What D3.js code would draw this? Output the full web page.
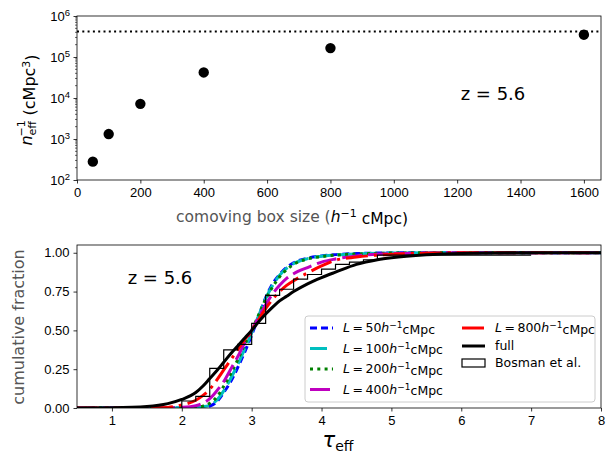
<!DOCTYPE html>
<html>
<head>
<meta charset="utf-8">
<script src="https://cdn.jsdelivr.net/npm/d3@7"></script>
<style>
  body { margin: 0; background: #fff; }
  svg { font-family: "DejaVu Sans", sans-serif; }
  .tick text { font-size: 13px; fill: #000; }
</style>
</head>
<body>
<div class="chart"></div>
<script>
// ---- top panel data
var boxSize = [50, 100, 200, 400, 800, 1600];
var nEffInv = [280, 1320, 7200, 42000, 165000, 350000];
var fullVolume = 420000;
var boxTicks = [0, 200, 400, 600, 800, 1000, 1200, 1400, 1600];

// ---- bottom panel data (cumulative distributions of tau_eff)
var tauGrid = [0.5, 1.0, 1.5, 1.8, 2.0, 2.2, 2.3, 2.4, 2.5, 2.6, 2.7, 2.8, 2.9, 3.0, 3.1, 3.2, 3.3, 3.4, 3.5, 3.6, 3.8, 4.0, 4.2, 4.5, 4.8, 5.0, 5.5, 6.0, 7.0, 8.0];
var cdfL50  = [0, 0, 0, 0, 0, 0.001, 0.004, 0.012, 0.04, 0.10, 0.17, 0.26, 0.36, 0.47, 0.59, 0.71, 0.80, 0.86, 0.905, 0.935, 0.965, 0.98, 0.988, 0.995, 0.998, 0.999, 1, 1, 1, 1];
var cdfL100 = [0, 0, 0, 0, 0.001, 0.004, 0.008, 0.018, 0.05, 0.11, 0.19, 0.28, 0.38, 0.485, 0.595, 0.705, 0.79, 0.855, 0.90, 0.93, 0.962, 0.978, 0.986, 0.993, 0.997, 0.998, 1, 1, 1, 1];
var cdfL200 = [0, 0, 0, 0, 0.002, 0.006, 0.012, 0.03, 0.07, 0.14, 0.22, 0.31, 0.41, 0.5, 0.6, 0.7, 0.78, 0.845, 0.89, 0.925, 0.96, 0.975, 0.985, 0.992, 0.996, 0.998, 1, 1, 1, 1];
var cdfL400 = [0, 0, 0, 0.001, 0.004, 0.015, 0.03, 0.06, 0.11, 0.17, 0.25, 0.33, 0.42, 0.5, 0.585, 0.665, 0.735, 0.79, 0.835, 0.865, 0.905, 0.94, 0.96, 0.98, 0.99, 0.994, 0.998, 1, 1, 1];
var cdfL800 = [0, 0, 0.001, 0.004, 0.02, 0.05, 0.08, 0.12, 0.18, 0.245, 0.31, 0.375, 0.44, 0.5, 0.57, 0.64, 0.70, 0.75, 0.79, 0.82, 0.87, 0.915, 0.952, 0.972, 0.985, 0.99, 0.997, 1, 1, 1];
var cdfFull = [0, 0.002, 0.01, 0.028, 0.055, 0.10, 0.14, 0.19, 0.24, 0.295, 0.35, 0.40, 0.45, 0.50, 0.555, 0.605, 0.65, 0.69, 0.72, 0.75, 0.80, 0.84, 0.875, 0.925, 0.955, 0.968, 0.987, 0.995, 1, 1];
var bosmanTau  = [2.0, 2.2, 2.4, 2.6, 2.8, 3.0, 3.2, 3.4, 3.6, 3.8, 4.0, 4.2, 4.4, 4.6, 4.8, 7.0];
var bosmanFrac = [0.045, 0.075, 0.255, 0.375, 0.41, 0.545, 0.725, 0.765, 0.83, 0.86, 0.895, 0.925, 0.94, 0.955, 0.985, 0.985];
var tauTicks = [1, 2, 3, 4, 5, 6, 7, 8];
var fracTicks = [0, 0.25, 0.5, 0.75, 1.0];

var series = [
  { name: "50",  values: cdfL50,  color: "#0000ff", dash: "7,4" },
  { name: "100", values: cdfL100, color: "#00bfbf", dash: "17,6" },
  { name: "200", values: cdfL200, color: "#008000", dash: "3,4.3" },
  { name: "400", values: cdfL400, color: "#bf00bf", dash: "20,6" },
  { name: "800", values: cdfL800, color: "#ff0000", dash: "22,6,3,6" }
];

var width = 606, height = 456;
var svg = d3.select(".chart").append("svg")
  .attr("width", width).attr("height", height);

function styleAxis(g) {
  g.select(".domain").remove();
  g.selectAll(".tick line").attr("stroke", "#000").attr("stroke-width", 0.8);
}

// ================= top panel
var top1 = { left: 77, right: 601, top: 16, bottom: 180 };
var x1 = d3.scaleLinear().domain([0, 1654]).range([top1.left, top1.right]);
var y1 = d3.scaleLog().domain([1e2, 1e6]).range([top1.bottom, top1.top]);

var gTop = svg.append("g");

gTop.append("line")
  .attr("x1", x1(0)).attr("x2", x1(1654))
  .attr("y1", y1(fullVolume)).attr("y2", y1(fullVolume))
  .attr("stroke", "#000").attr("stroke-width", 2)
  .attr("stroke-dasharray", "2,3.3");

gTop.append("g").selectAll("circle")
  .data(boxSize)
  .join("circle")
  .attr("cx", d => x1(d))
  .attr("cy", (d, i) => y1(nEffInv[i]))
  .attr("r", 5.2)
  .attr("fill", "#000");

gTop.append("g")
  .attr("transform", `translate(0,${top1.bottom})`)
  .call(d3.axisBottom(x1).tickValues(boxTicks).tickSize(3.5).tickPadding(4).tickFormat(d3.format("d")))
  .call(styleAxis);

var yAxTop = gTop.append("g")
  .attr("transform", `translate(${top1.left},0)`)
  .call(d3.axisLeft(y1).tickValues([1e2, 1e3, 1e4, 1e5, 1e6]).tickSize(3.5).tickPadding(4).tickFormat(""))
  .call(styleAxis);
yAxTop.selectAll(".tick").each(function(d) {
  var t = d3.select(this).append("text")
    .attr("x", -7).attr("dy", "0.35em")
    .attr("text-anchor", "end").style("font-size", "13px");
  t.append("tspan").text("10");
  t.append("tspan").attr("dy", "-0.5em").style("font-size", "9.5px").text(Math.round(Math.log10(d)));
});
// minor log ticks
var minor = [];
[100, 1000, 10000, 100000].forEach(function(b) {
  for (var k = 2; k < 10; k++) minor.push(b * k);
});
gTop.append("g").selectAll("line")
  .data(minor)
  .join("line")
  .attr("x1", top1.left - 2).attr("x2", top1.left)
  .attr("y1", d => y1(d)).attr("y2", d => y1(d))
  .attr("stroke", "#000").attr("stroke-width", 0.6);

gTop.append("rect")
  .attr("x", top1.left).attr("y", top1.top)
  .attr("width", top1.right - top1.left).attr("height", top1.bottom - top1.top)
  .attr("fill", "none").attr("stroke", "#000").attr("stroke-width", 0.8);

gTop.append("text")
  .attr("x", 493).attr("y", 100)
  .attr("text-anchor", "middle").style("font-size", "18px")
  .text("z = 5.6");

// axis labels
var xl1 = gTop.append("text")
  .attr("x", 292).attr("y", 222)
  .attr("text-anchor", "middle")
  .style("font-size", "15.5px");
xl1.append("tspan").attr("fill", "#555").text("comoving box size (");
xl1.append("tspan").attr("font-style", "italic").text("h");
xl1.append("tspan").attr("dy", "-0.45em").style("font-size", "11px").text("−1");
xl1.append("tspan").attr("dy", "0.45em").text(" cMpc)");

var yl1 = gTop.append("text")
  .attr("transform", "translate(32,100) rotate(-90)")
  .attr("text-anchor", "middle")
  .style("font-size", "16px");
yl1.append("tspan").attr("font-style", "italic").text("n");
yl1.append("tspan").attr("dy", "0.35em").style("font-size", "11px").text("eff");
yl1.append("tspan").attr("dx", "-1.4em").attr("dy", "-0.95em").style("font-size", "11px").text("−1");
yl1.append("tspan").attr("dx", "0.3em").attr("dy", "0.6em").text("(cMpc");
yl1.append("tspan").attr("dy", "-0.45em").style("font-size", "11px").text("3");
yl1.append("tspan").attr("dy", "0.45em").text(")");

// ================= bottom panel
var bot = { left: 77, right: 601, top: 245, bottom: 408 };
var x2 = d3.scaleLinear().domain([0.5, 8]).range([bot.left, bot.right]);
var y2 = d3.scaleLinear().domain([0, 1.05]).range([bot.bottom, bot.top]);

var gBot = svg.append("g");

gBot.append("g")
  .attr("transform", `translate(0,${bot.bottom})`)
  .call(d3.axisBottom(x2).tickValues(tauTicks).tickSize(3.5).tickPadding(4).tickFormat(d3.format("d")))
  .call(styleAxis);
gBot.append("g")
  .attr("transform", `translate(${bot.left},0)`)
  .call(d3.axisLeft(y2).tickValues(fracTicks).tickSize(3.5).tickPadding(4).tickFormat(d3.format(".2f")))
  .call(styleAxis);

svg.append("clipPath").attr("id", "clipBot").append("rect")
  .attr("x", bot.left).attr("y", bot.top)
  .attr("width", bot.right - bot.left).attr("height", bot.bottom - bot.top);

var curve = d3.line()
  .x(d => x2(d[0]))
  .y(d => y2(d[1]))
  .curve(d3.curveMonotoneX);

var gLines = gBot.append("g").attr("clip-path", "url(#clipBot)");
series.forEach(function(s) {
  gLines.append("path")
    .datum(tauGrid.map((t, i) => [t, s.values[i]]))
    .attr("d", curve)
    .attr("fill", "none")
    .attr("stroke", s.color)
    .attr("stroke-width", 3)
    .attr("stroke-dasharray", s.dash);
});
gLines.append("path")
  .datum(tauGrid.map((t, i) => [t, cdfFull[i]]))
  .attr("d", curve)
  .attr("fill", "none")
  .attr("stroke", "#000")
  .attr("stroke-width", 3);

var step = d3.line()
  .x(d => x2(d[0]))
  .y(d => y2(d[1]))
  .curve(d3.curveStepAfter);
gLines.append("path")
  .datum([[bosmanTau[0], 0]].concat(bosmanTau.map((t, i) => [t, bosmanFrac[i]])))
  .attr("d", step)
  .attr("fill", "none")
  .attr("stroke", "#000")
  .attr("stroke-width", 1.2);

gBot.append("rect")
  .attr("x", bot.left).attr("y", bot.top)
  .attr("width", bot.right - bot.left).attr("height", bot.bottom - bot.top)
  .attr("fill", "none").attr("stroke", "#000").attr("stroke-width", 0.8);

gBot.append("text")
  .attr("x", 160).attr("y", 284)
  .attr("text-anchor", "middle").style("font-size", "18px")
  .text("z = 5.6");

gBot.append("text")
  .attr("transform", "translate(24,327) rotate(-90)")
  .attr("text-anchor", "middle")
  .attr("fill", "#555")
  .style("font-size", "16px")
  .text("cumulative fraction");

var xl2 = gBot.append("text")
  .attr("x", 338).attr("y", 447)
  .attr("text-anchor", "middle")
  .style("font-size", "21px");
xl2.append("tspan").attr("font-style", "italic").text("τ");
xl2.append("tspan").attr("dy", "0.3em").style("font-size", "14px").text("eff");

// legend
var leg = gBot.append("g");
leg.append("rect")
  .attr("x", 305).attr("y", 316).attr("width", 290).attr("height", 86)
  .attr("rx", 3)
  .attr("fill", "#fff").attr("fill-opacity", 0.85)
  .attr("stroke", "#ccc").attr("stroke-width", 1);

function legLabel(g, x, y, n) {
  var t = g.append("text").attr("x", x).attr("y", y).attr("dy", "0.35em").style("font-size", "12.5px");
  t.append("tspan").attr("font-style", "italic").text("L");
  t.append("tspan").text("\u2009=\u2009" + n);
  t.append("tspan").attr("font-style", "italic").text("h");
  t.append("tspan").attr("dy", "-0.45em").style("font-size", "9px").text("−1");
  t.append("tspan").attr("dy", "0.45em").text("cMpc");
}
var col1Rows = [328, 348.5, 369, 389.5];
var legItems = series.slice(0, 4).map((s, i) => ({ s: s, x: 310, tx: 343, y: col1Rows[i] }));
legItems.push({ s: series[4], x: 462, tx: 495, y: 328 });
legItems.forEach(function(it) {
  leg.append("line")
    .attr("x1", it.x).attr("x2", it.x + 23)
    .attr("y1", it.y).attr("y2", it.y)
    .attr("stroke", it.s.color).attr("stroke-width", 3)
    .attr("stroke-dasharray", it.s.dash);
  legLabel(leg, it.tx, it.y, it.s.name);
});
leg.append("line")
  .attr("x1", 462).attr("x2", 485).attr("y1", 346).attr("y2", 346)
  .attr("stroke", "#000").attr("stroke-width", 3);
leg.append("text").attr("x", 495).attr("y", 346).attr("dy", "0.35em")
  .style("font-size", "12.5px").text("full");
leg.append("rect")
  .attr("x", 462).attr("y", 359).attr("width", 23).attr("height", 8)
  .attr("fill", "none").attr("stroke", "#000").attr("stroke-width", 1.2);
leg.append("text").attr("x", 495).attr("y", 363).attr("dy", "0.35em")
  .style("font-size", "12.5px").text("Bosman et al.");
</script>
</body>
</html>
